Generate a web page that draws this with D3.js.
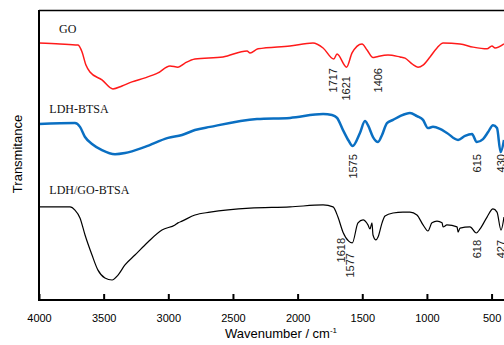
<!DOCTYPE html>
<html>
<head>
<meta charset="utf-8">
<script src="https://cdn.jsdelivr.net/npm/d3@7"></script>
<style>
  body { margin: 0; background: white; }
  svg { display: block; }
</style>
</head>
<body>
<div id="chart"></div>
<script>
// FTIR spectra of GO, LDH-BTSA and LDH/GO-BTSA.
// Transmittance is in arbitrary units (curves are stacked, no y scale shown).

// wavenumber (cm-1) for each point, per series
var goWn = [4000, 3838, 3698, 3667, 3637, 3606, 3513, 3428, 3358, 3281, 3180, 3080, 2987, 2925, 2871, 2794,
    2577, 2391, 2368, 2306, 2059, 1881, 1803, 1720, 1695, 1621, 1579, 1502, 1463, 1417, 1395, 1301, 1208,
    1169, 1115, 1069, 1030, 976, 922, 875, 744, 643, 535, 497, 473, 404];
var goT = [88.6, 88.3, 87.9, 85.5, 81.0, 78.6, 75.9, 72.8, 73.8, 75.2, 76.6, 78.3, 80.7, 80.3, 81.7, 83.1,
    83.8, 85.9, 85.2, 86.6, 87.6, 88.6, 86.9, 83.1, 84.8, 80.3, 85.2, 88.3, 86.2, 83.6, 83.8, 84.5, 83.8,
    83.4, 81.4, 80.3, 81.0, 83.8, 86.9, 88.6, 88.3, 87.2, 86.6, 87.6, 86.9, 88.3];

var btsaWn = [4000, 3722, 3683, 3644, 3590, 3513, 3412, 3335, 3180, 3002, 2894, 2794, 2677, 2314, 2059,
    1803, 1734, 1695, 1649, 1605, 1575, 1518, 1479, 1456, 1417, 1378, 1347, 1309, 1262, 1208, 1131, 1077,
    1030, 992, 953, 899, 845, 759, 705, 651, 615, 566, 527, 489, 458, 430, 404];
var btsaT = [60.7, 61.0, 59.7, 56.2, 53.8, 51.7, 50.3, 50.7, 52.8, 55.9, 56.9, 58.6, 59.7, 62.4, 62.8,
    64.1, 63.8, 62.8, 58.6, 54.9, 53.1, 57.6, 61.7, 60.3, 56.2, 54.5, 56.9, 61.0, 62.1, 63.4, 64.5, 63.4,
    62.1, 59.3, 59.7, 59.0, 57.6, 55.2, 56.6, 57.2, 54.5, 55.5, 57.9, 60.3, 59.3, 51.0, 55.2];

var compWn = [4000, 3760, 3722, 3683, 3644, 3590, 3544, 3490, 3435, 3389, 3335, 3258, 3157, 3049, 2948,
    2925, 2894, 2794, 2677, 2368, 2059, 1803, 1726, 1688, 1649, 1605, 1577, 1533, 1494, 1456, 1440, 1425,
    1417, 1394, 1378, 1347, 1324, 1262, 1185, 1131, 1077, 1030, 992, 961, 922, 883, 875, 845, 767, 759,
    744, 667, 618, 589, 535, 489, 458, 427, 404];
var compT = [32.1, 32.1, 31.0, 28.3, 22.4, 15.5, 10.3, 7.6, 6.9, 8.6, 12.1, 15.5, 20.0, 24.1, 25.9,
    26.6, 27.2, 29.3, 30.3, 31.7, 32.1, 32.8, 32.1, 28.6, 23.4, 20.3, 19.7, 26.6, 27.6, 25.9, 24.5, 26.6,
    22.4, 20.7, 21.7, 26.6, 29.0, 30.0, 30.3, 30.3, 29.3, 25.9, 23.8, 26.6, 27.2, 26.6, 25.2, 25.9, 25.2, 23.4,
    24.8, 25.2, 23.1, 24.5, 28.6, 31.4, 30.3, 24.1, 28.6];

var seriesNames = ["GO", "LDH-BTSA", "LDH/GO-BTSA"];
var seriesColors = ["#ff1a1a", "#0a6fc2", "#000000"];

// peak annotations: text, wavenumber where it sits, transmittance of the label top
var peakText = ["1717", "1621", "1406", "1575", "615", "430", "1618", "1577", "618", "427"];
var peakWn = [1726, 1626, 1378, 1572, 613, 427, 1664, 1595, 613, 427];
var peakTop = [80.0, 77.2, 80.0, 50.3, 50.3, 50.3, 21.4, 16.2, 20.7, 20.7];

// name label positions (wavenumber of start, transmittance of baseline)
var nameWn = [3845, 3920, 3920];
var nameT = [92.1, 64.5, 36.6];

var xTicks = [4000, 3500, 3000, 2500, 2000, 1500, 1000, 500];

var W = 504, H = 345;
var margin = {left: 39, top: 10, right: 0, bottom: 45};

var svg = d3.select("#chart").append("svg")
    .attr("width", W)
    .attr("height", H);

var x = d3.scaleLinear().domain([4000, 400]).range([margin.left, W + 0.5]);
var y = d3.scaleLinear().domain([0, 100]).range([H - margin.bottom, margin.top]);

/** zip wavenumber and transmittance arrays into points */
function pts(wn, t) {
    return wn.map(function(d, i) { return [d, t[i]]; });
}

var allSeries = [pts(goWn, goT), pts(btsaWn, btsaT), pts(compWn, compT)];
var widths = [1.5, 2.5, 1.2];

var line = d3.line()
    .x(function(d) { return x(d[0]); })
    .y(function(d) { return y(d[1]); })
    .curve(d3.curveMonotoneX);

svg.append("defs").append("clipPath").attr("id", "clip")
    .append("rect").attr("x", margin.left).attr("y", margin.top)
    .attr("width", W - margin.left).attr("height", H - margin.bottom - margin.top);

for (var s = 0; s < allSeries.length; s++) {
    svg.append("path")
        .datum(allSeries[s])
        .attr("clip-path", "url(#clip)")
        .attr("fill", "none")
        .attr("stroke", seriesColors[s])
        .attr("stroke-width", widths[s])
        .attr("stroke-linejoin", "round")
        .attr("d", line);

    svg.append("text")
        .attr("x", x(nameWn[s]))
        .attr("y", y(nameT[s]))
        .attr("font-family", "'Liberation Serif', 'Times New Roman', serif")
        .attr("font-size", 12)
        .attr("fill", "#111")
        .text(seriesNames[s]);
}

// peak labels, rotated
for (var p = 0; p < peakText.length; p++) {
    svg.append("text")
        .attr("transform", "translate(" + x(peakWn[p]) + "," + y(peakTop[p]) + ") rotate(-90)")
        .attr("text-anchor", "end")
        .attr("dy", "0.36em")
        .attr("font-family", "'Liberation Sans', Arial, sans-serif")
        .attr("font-size", 11)
        .attr("fill", "#222")
        .text(peakText[p]);
}

// top frame line
svg.append("line")
    .attr("x1", margin.left).attr("x2", W)
    .attr("y1", margin.top + 0.5).attr("y2", margin.top + 0.5)
    .attr("stroke", "#000").attr("stroke-width", 1.5);

// bottom axis, ticks pointing inward
var xAxis = d3.axisBottom(x)
    .tickValues(xTicks)
    .tickSizeInner(-6)
    .tickSizeOuter(0)
    .tickPadding(14)
    .tickFormat(d3.format("d"));

var gx = svg.append("g")
    .attr("transform", "translate(0," + (H - margin.bottom) + ")")
    .call(xAxis);
gx.select(".domain").attr("stroke-width", 2).attr("d", "M" + margin.left + ",0H" + W);
gx.selectAll(".tick line").attr("stroke-width", 2);
gx.selectAll(".tick text")
    .attr("font-family", "'Liberation Sans', Arial, sans-serif")
    .attr("font-size", 11)
    .attr("fill", "#000");

// left axis line, no ticks
svg.append("line")
    .attr("x1", margin.left).attr("x2", margin.left)
    .attr("y1", margin.top).attr("y2", H - margin.bottom + 1)
    .attr("stroke", "#000").attr("stroke-width", 2);

// axis titles
var xt = svg.append("text")
    .attr("x", 281)
    .attr("y", 338)
    .attr("text-anchor", "middle")
    .attr("font-family", "'Liberation Sans', Arial, sans-serif")
    .attr("font-size", 13)
    .attr("fill", "#000");
xt.append("tspan").text("Wavenumber / cm");
xt.append("tspan").attr("dy", -5).attr("font-size", 8).text("-1");

svg.append("text")
    .attr("transform", "translate(22,154) rotate(-90)")
    .attr("text-anchor", "middle")
    .attr("font-family", "'Liberation Sans', Arial, sans-serif")
    .attr("font-size", 13)
    .attr("fill", "#000")
    .text("Transmitance");
</script>
</body>
</html>
